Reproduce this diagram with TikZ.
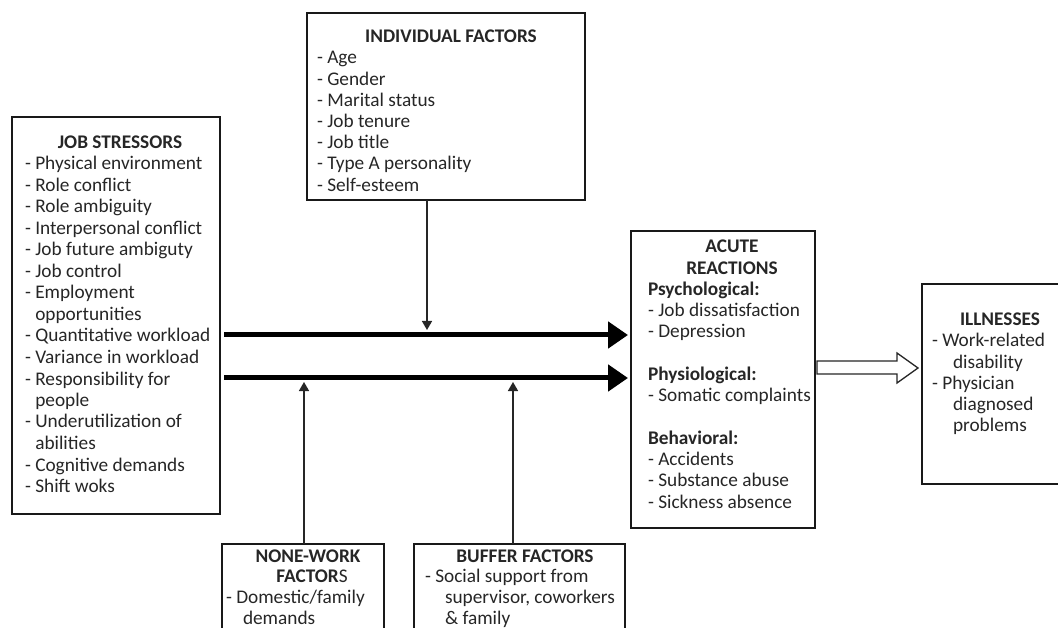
\documentclass[tikz,border=0pt]{standalone}
\usepackage{fontspec}
\setmainfont{Carlito}
\usetikzlibrary{arrows.meta,calc}
\begin{document}
\begin{tikzpicture}[x=1pt,y=-1pt,
  box/.style={draw=black!90,line width=2pt,anchor=north west,inner sep=0pt,outer sep=0pt},
  txt/.style={inner sep=0pt,outer sep=0pt,text=black!85,font=\fontsize{19.3}{21.3}\selectfont,anchor=base west},
  hd/.style={txt,anchor=base,font=\fontsize{19.3}{21.3}\selectfont\bfseries},
  bigarr/.style={line width=5pt,-{Triangle[length=20pt,width=26pt]}},
  thinarr/.style={line width=1.5pt,draw=black!85,-{Triangle[length=9pt,width=10pt]}},
  blockarr/.style={draw=black!85,line width=1.3pt,fill=white,line join=miter}]
\useasboundingbox (0,0) rectangle (1058,628);
\clip (0,0) rectangle (1058,628);
% boxes
\node[box,minimum width=208pt,minimum height=397pt] (js) at (12,117) {};
\node[box,minimum width=278pt,minimum height=187pt] (ind) at (307,13) {};
\node[box,minimum width=184pt,minimum height=297pt] (ac) at (631,231) {};
\node[box,minimum width=150pt,minimum height=200pt] (il) at (922,284) {};
\node[box,minimum width=162pt,minimum height=100pt] (nw) at (222,544) {};
\node[box,minimum width=211pt,minimum height=100pt] (bf) at (414,544) {};
% job stressors
\node[hd] (jsh) at (120,149) {JOB STRESSORS};
\foreach \t [count=\i from 0] in {- Physical environment,- Role conflict,- Role ambiguity,- Interpersonal conflict,- Job future ambiguty,- Job control,- Employment,\hphantom{- }opportunities,- Quantitative workload,- Variance in workload,- Responsibility for,\hphantom{- }people,- Underutilization of,\hphantom{- }abilities,- Cognitive demands,- Shift woks}
  \node[txt] (js\i) at (25,170+21.5*\i) {\t};
% individual factors
\node[hd] (indh) at (451,43) {INDIVIDUAL FACTORS};
\foreach \t [count=\i from 0] in {- Age,- Gender,- Marital status,- Job tenure,- Job title,- Type A personality,- Self-esteem}
  \node[txt] (ind\i) at (317,64+21.2*\i) {\t};
% acute reactions
\node[hd] (ach1) at (732,253) {ACUTE};
\node[hd] (ach2) at (732,274.3) {REACTIONS};
\node[txt] (ac2) at (648,295.5) {\bfseries Psychological:};
\node[txt] (ac3) at (648,316.8) {- Job dissatisfaction};
\node[txt] (ac4) at (648,338) {- Depression};
\node[txt] (ac6) at (648,380.5) {\bfseries Physiological:};
\node[txt] (ac7) at (648,401.8) {- Somatic complaints};
\node[txt] (ac9) at (648,444.3) {\bfseries Behavioral:};
\node[txt] (ac10) at (648,465.5) {- Accidents};
\node[txt] (ac11) at (648,486.8) {- Substance abuse};
\node[txt] (ac12) at (648,508) {- Sickness absence};
% illnesses
\node[txt,font=\fontsize{19.3}{21.3}\selectfont\bfseries] (ilh) at (960,326) {ILLNESSES};
\node[txt] (il1) at (932,347) {- Work-related};
\node[txt] (il2) at (953,368.2) {disability};
\node[txt] (il3) at (932,389.4) {- Physician};
\node[txt] (il4) at (953,410.6) {diagnosed};
\node[txt] (il5) at (953,431.8) {problems};
% none-work
\node[hd] (nwh1) at (308,562) {NONE-WORK};
\node[hd] (nwh2) at (312,582.5) {FACTOR\mdseries S};
\node[txt] (nw1) at (226,603) {- Domestic/family};
\node[txt] (nw2) at (243,624) {demands};
% buffer
\node[hd] (bfh) at (525,562) {BUFFER FACTORS};
\node[txt] (bf1) at (425,582.5) {- Social support from};
\node[txt] (bf2) at (445,603) {supervisor, coworkers};
\node[txt] (bf3) at (445,624) {\& family};
% connectors
\draw[bigarr] ($(js.east |- 0,335)+(4,0)$) -- ($(ac.west |- 0,335)+(-3,0)$);
\draw[bigarr] ($(js.east |- 0,378)+(4,0)$) -- ($(ac.west |- 0,378)+(-3,0)$);
\coordinate (d1) at (427,330);
\coordinate (u1) at (304,382);
\coordinate (u2) at (513,382);
\draw[thinarr] (ind.south -| d1) -- (d1);
\draw[thinarr] (nw.north -| u1) -- (u1);
\draw[thinarr] (bf.north -| u2) -- (u2);
\draw[blockarr] ($(ac.east |- 0,361)+(2,0)$) -- (897,361) -- (897,353) -- ($(il.west |- 0,368)+(-4,0)$) -- (897,383) -- (897,374) -- ($(ac.east |- 0,374)+(2,0)$) -- cycle;
\end{tikzpicture}
\end{document}
